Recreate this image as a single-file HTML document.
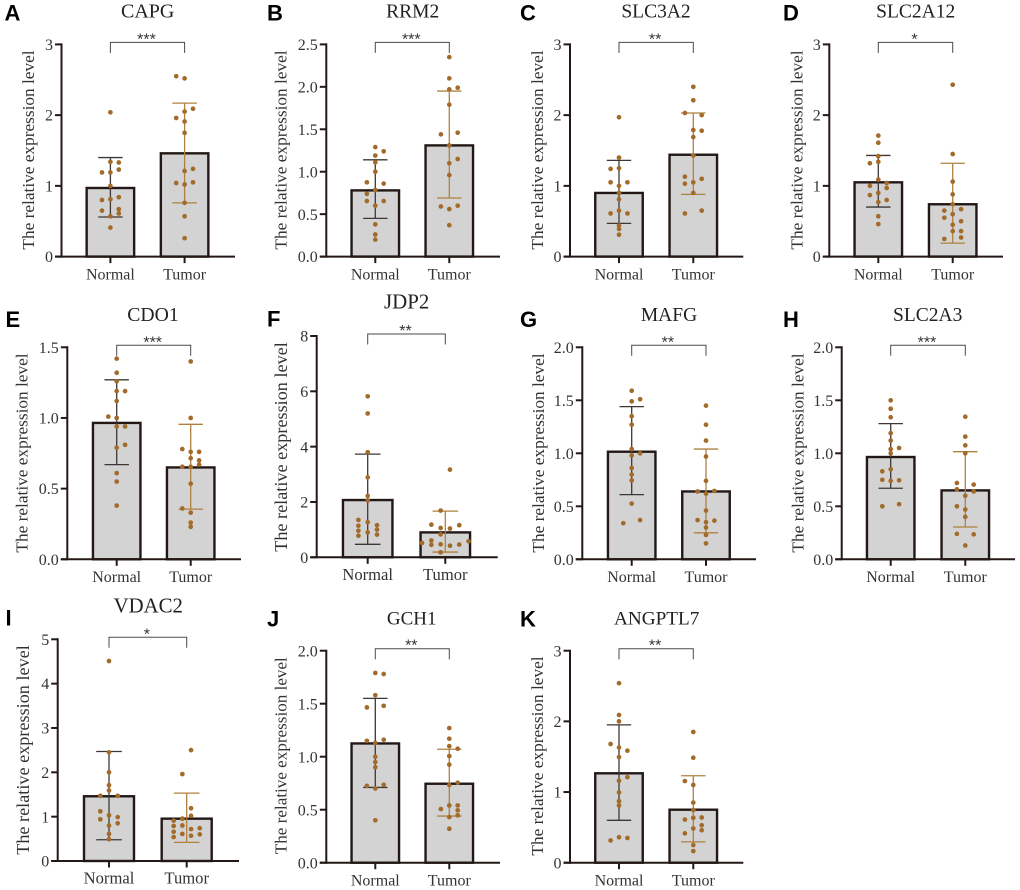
<!DOCTYPE html>
<html lang="en">
<head>
<meta charset="utf-8">
<title>Relative expression level of eleven genes in normal and tumor tissue</title>
<style>
html,body{margin:0;padding:0;background:#fff;}
svg{display:block;}
text{font-family:"Liberation Serif",serif;fill:#333;}
.letter{font-family:"Liberation Sans",sans-serif;font-weight:700;font-size:22px;fill:#000;}
.stars{font-family:"Liberation Sans",sans-serif;font-size:16px;fill:#333;}
</style>
</head>
<body>
<svg id="figure" xmlns="http://www.w3.org/2000/svg" width="1020" height="890" viewBox="0 0 1020 890"></svg>
<script>
const panelLetters = ['A','B','C','D','E','F','G','H','I','J','K'];
const genes = ['CAPG','RRM2','SLC3A2','SLC2A12','CDO1','JDP2','MAFG','SLC2A3','VDAC2','GCH1','ANGPTL7'];
const groups = ['Normal','Tumor'];
const significance = ['***','***','**','*','***','**','**','***','*','**','**'];
const yTickLabels = [
  ['0','1','2','3'],
  ['0.0','0.5','1.0','1.5','2.0','2.5'],
  ['0','1','2','3'],
  ['0','1','2','3'],
  ['0.0','0.5','1.0','1.5'],
  ['0','2','4','6','8'],
  ['0.0','0.5','1.0','1.5','2.0'],
  ['0.0','0.5','1.0','1.5','2.0'],
  ['0','1','2','3','4','5'],
  ['0.0','0.5','1.0','1.5','2.0'],
  ['0','1','2','3']
];
const normalMeans = [0.97,0.78,0.90,1.05,0.965,2.07,1.015,0.965,1.46,1.125,1.265];
const normalUpper = [1.40,1.14,1.36,1.43,1.27,3.73,1.44,1.28,2.47,1.55,1.95];
const normalLower = [0.56,0.45,0.47,0.70,0.67,0.47,0.61,0.67,0.48,0.71,0.60];
const tumorMeans = [1.46,1.31,1.44,0.74,0.65,0.90,0.64,0.65,0.955,0.745,0.75];
const tumorUpper = [2.17,1.95,2.03,1.32,0.955,1.67,1.04,1.015,1.53,1.07,1.23];
const tumorLower = [0.76,0.69,0.88,0.19,0.355,0.19,0.25,0.305,0.42,0.44,0.295];
const normalValues = [
  [2.04,1.34,1.33,1.19,1.19,1.23,1.0,0.84,0.81,0.80,0.67,0.65,0.61,0.57,0.41],
  [1.29,1.24,1.19,1.11,1.0,0.875,0.86,0.785,0.74,0.655,0.655,0.60,0.38,0.26,0.20],
  [1.97,1.40,1.24,1.25,1.05,1.05,1.0,0.90,0.81,0.65,0.61,0.61,0.44,0.39,0.31],
  [1.71,1.61,1.42,1.32,1.34,1.09,1.04,1.0,0.97,0.87,0.90,0.80,0.77,0.57,0.46],
  [1.42,1.32,1.26,1.19,1.19,1.12,1.01,1.0,0.94,0.94,0.81,0.79,0.61,0.55,0.38],
  [5.82,5.2,3.8,2.89,2.22,2.05,1.35,1.27,1.14,1.16,0.96,1.0,0.90,0.78,0.82],
  [1.59,1.51,1.49,1.35,1.27,1.04,0.98,1.0,0.86,0.80,0.745,0.525,0.37,0.34],
  [1.5,1.42,1.34,1.19,1.12,1.04,1.05,1.0,0.83,0.85,0.75,0.74,0.745,0.50,0.52],
  [4.51,2.45,2.0,1.71,1.59,1.47,1.47,1.12,1.03,0.99,0.94,0.85,0.80,0.61,0.49],
  [1.79,1.78,1.58,1.465,1.48,1.15,1.16,1.13,1.0,0.95,0.90,0.725,0.735,0.70,0.40],
  [2.54,2.09,2.0,1.68,1.63,1.585,1.495,1.21,1.16,0.995,0.87,0.81,0.36,0.35,0.315]
];
const normalColumns = [
  [0,0,1,-1,0,1,0,1,0,-1,1,-1,1,0,0],
  [0,1,0,0,0,-1,1,0,-1,-1,1,0,0,0,0],
  [0,0,-1,0,-1,1,0,0,0,0,-1,1,0,0,0],
  [0,0,0,-1,0,0,1,-1,1,-1,0,1,0,0,0],
  [0,0,0,0,1,0,-1,0,0,1,1,0,0,0,0],
  [0,0,0,0,0,0,-1,0,-1,1,-1,1,0,-1,1],
  [0,1,0,0,0,0,0,1,0,0,0,0,1,-1],
  [0,0,0,0,0,0,1,0,-1,0,-1,0,1,-1,1],
  [0,0,0,0,0,-1,1,-1,0,1,-1,1,0,0,0],
  [0,1,0,-1,1,-1,1,0,0,0,0,-1,1,0,0],
  [0,0,0,-1,0,1,0,1,0,0,0,0,0,1,-1]
];
const tumorValues = [
  [2.55,2.52,2.09,2.05,1.96,1.91,1.75,1.24,1.21,1.04,1.02,1.05,0.76,0.57,0.26],
  [2.35,2.10,1.97,1.99,1.79,1.44,1.46,1.31,1.10,1.15,0.96,0.59,0.56,0.60,0.37],
  [2.40,2.21,2.03,2.0,1.79,1.78,1.69,1.43,1.13,1.10,1.03,1.05,0.90,0.65,0.61],
  [2.43,1.45,1.06,0.88,0.74,0.65,0.67,0.60,0.55,0.50,0.45,0.36,0.36,0.27,0.25],
  [1.40,1.0,0.78,0.76,0.76,0.715,0.70,0.67,0.655,0.655,0.535,0.36,0.33,0.26,0.23],
  [3.17,1.69,1.18,1.06,1.04,1.16,0.83,0.61,0.52,0.45,0.47,0.42,0.46,0.58,0.18],
  [1.45,1.27,1.12,0.97,0.74,0.64,0.62,0.645,0.46,0.37,0.365,0.35,0.30,0.23,0.15],
  [1.345,1.157,1.075,1.0,0.72,0.705,0.66,0.64,0.60,0.50,0.47,0.40,0.24,0.235,0.13],
  [2.5,1.96,1.19,1.02,0.955,0.91,0.79,0.80,0.74,0.72,0.66,0.61,0.60,0.57,0.54],
  [1.27,1.17,1.10,1.075,1.006,0.925,0.733,0.755,0.54,0.54,0.506,0.494,0.447,0.43,0.32],
  [1.85,1.485,1.155,1.10,0.85,0.745,0.635,0.64,0.61,0.53,0.485,0.46,0.415,0.25,0.165]
];
const tumorColumns = [
  [-1,0,1,0,-1,0,0,1,0,-1,0,1,0,0,0],
  [0,0,0,1,0,-1,1,0,0,1,0,-1,0,1,0],
  [0,0,-1,1,0,1,0,0,-1,1,-1,0,0,1,-1],
  [0,0,0,0,0,-1,1,0,-1,1,0,0,1,1,-1],
  [0,0,-1,0,1,0,1,1,-1,0,0,-1,0,0,0],
  [0.5,-0.5,-1.5,-0.5,0.5,1.5,-0.5,-1.5,-2.5,-1.5,-0.5,0.5,1.5,2.5,-0.5],
  [0,0,0,0,0,-1,0,1,0,-1,1,0,0,0,0],
  [0,0,0,0,-1,1,-1,1,0,-1,0,0,-1,1,0],
  [0.5,-0.5,0.5,0.5,-0.5,-1.5,-1.5,-0.5,1.5,0.5,-1.5,-0.5,1.5,0.5,-1.5],
  [0,0,0,1,0,0,0,1,0,1,-1,1,1,0,0],
  [0,0,-1,0,0,0,0,1,-1,1,0,1,-1,0,0]
];

/* Frame geometry of each panel, separate from the values above. */
const frames = [
  {axis:61.5, c1:110.4,c2:184.6,end:235, top:44.4, bottom:256.6,barW:47.5,step:8.4,cap:12.2,letterX:4.5,letterY:20.7, titleX:147.7,titleY:17.5, titleSize:20,labelX:34,   labelY:150,  labelSize:17.3,catSize:16},
  {axis:326.3,c1:375.3,c2:449.3,end:500, top:44.4, bottom:256.6,barW:47.5,step:8.4,cap:12.2,letterX:267,letterY:20.7, titleX:412.7,titleY:17.5, titleSize:19.5,labelX:286.3,labelY:150,  labelSize:17.3,catSize:16},
  {axis:570,  c1:619,  c2:693.3,end:743.3,top:44.4,bottom:256.6,barW:47.5,step:8.4,cap:12.2,letterX:520,letterY:20.7, titleX:656,  titleY:17.5, titleSize:19.5,labelX:543,  labelY:150,  labelSize:17.3,catSize:16},
  {axis:829.3,c1:878.3,c2:952.7,end:1003,top:44.4, bottom:256.6,barW:47.5,step:8.4,cap:12.2,letterX:783,letterY:20.7, titleX:915.7,titleY:17.5, titleSize:19.5,labelX:802.3,labelY:150,  labelSize:17.3,catSize:16},
  {axis:67.3, c1:116.7,c2:190.7,end:241, top:347.3,bottom:559.3,barW:47.5,step:8.4,cap:12.2,letterX:5.5,letterY:327,  titleX:153,  titleY:321,  titleSize:19.7,labelX:27.7, labelY:453,  labelSize:17.3,catSize:16},
  {axis:316.7,c1:367.7,c2:445.3,end:497.7,top:336, bottom:557.3,barW:49.5,step:9.3,cap:12.8,letterX:267,letterY:326.7,titleX:406.7,titleY:308.3,titleSize:20.9,labelX:287,  labelY:447,  labelSize:18.2,catSize:16.6},
  {axis:582.3,c1:631.7,c2:706,  end:756, top:347.3,bottom:559.3,barW:47.5,step:8.4,cap:12.2,letterX:520,letterY:327,  titleX:669,  titleY:321,  titleSize:19.5,labelX:544,  labelY:453,  labelSize:17.3,catSize:16},
  {axis:841.7,c1:890.7,c2:965.3,end:1015,top:347.3,bottom:559.3,barW:47.5,step:8.4,cap:12.2,letterX:783,letterY:327,  titleX:927.7,titleY:321,  titleSize:19.5,labelX:803.5,labelY:453,  labelSize:17.3,catSize:16},
  {axis:57.7, c1:109,  c2:186.7,end:239, top:639.3,bottom:861,  barW:50,  step:8.7,cap:12.8,letterX:5.5,letterY:625.7,titleX:148.3,titleY:612.3,titleSize:20.8,labelX:29,   labelY:750,  labelSize:18.2,catSize:16.6},
  {axis:326.3,c1:375.3,c2:449.3,end:500, top:650.7,bottom:862.7,barW:47.5,step:8.4,cap:12.2,letterX:267,letterY:626.7,titleX:411.7,titleY:624.3,titleSize:19,labelX:286.3,labelY:755.7,labelSize:17.1,catSize:16},
  {axis:570,  c1:619,  c2:693.3,end:743.3,top:650.7,bottom:862.7,barW:47.5,step:8.4,cap:12.2,letterX:520,letterY:626.7,titleX:656.7,titleY:624.3,titleSize:19.2,labelX:543,labelY:756,labelSize:17.3,catSize:16}
];

const SVG_NS = 'http://www.w3.org/2000/svg';
const figure = document.getElementById('figure');
const INK = '#231815';
const NORMAL_ERR = '#3c3734';
const TUMOR_ERR = '#b0803f';
const DOT = '#a26b2a';

function mk(tag, attrs, parent, content) {
  const node = document.createElementNS(SVG_NS, tag);
  for (const key in attrs) node.setAttribute(key, attrs[key]);
  if (content !== undefined) node.textContent = content;
  parent.appendChild(node);
  return node;
}

function drawPanel(i) {
  const f = frames[i];
  const gene = genes[i].toLowerCase();
  const ticks = yTickLabels[i];
  const yMax = Number(ticks[ticks.length - 1]);
  const yScale = v => f.bottom - (v / yMax) * (f.bottom - f.top);

  const g = mk('g', {}, figure);
  
  

  const letter = mk('text', {x: f.letterX, y: f.letterY, class: 'letter'}, g, panelLetters[i]);
  
  

  const title = mk('text', {x: f.titleX, y: f.titleY, 'text-anchor': 'middle', 'font-size': f.titleSize, style: 'fill:#222'}, g, genes[i]);
  
  

  const yTitle = mk('text', {
    x: 0, y: 0, 'text-anchor': 'middle', 'font-size': f.labelSize,
    transform: 'translate(' + f.labelX + ',' + f.labelY + ') rotate(-90)'
  }, g, 'The relative expression level');
  
  

  const series = [
    {name: 'normal', cx: f.c1, mean: normalMeans[i], hi: normalUpper[i], lo: normalLower[i], vals: normalValues[i], cols: normalColumns[i], err: NORMAL_ERR},
    {name: 'tumor',  cx: f.c2, mean: tumorMeans[i],  hi: tumorUpper[i],  lo: tumorLower[i],  vals: tumorValues[i],  cols: tumorColumns[i],  err: TUMOR_ERR}
  ];

  series.forEach(s => {
    const yTop = yScale(s.mean);
    const bar = mk('rect', {
      x: s.cx - f.barW / 2, y: yTop, width: f.barW, height: f.bottom - yTop,
      fill: '#d3d3d3', stroke: INK, 'stroke-width': 2.4
    }, g);
    
    
  });

  series.forEach(s => {
    const errStem = mk('line', {x1: s.cx, x2: s.cx, y1: yScale(s.hi), y2: yScale(s.lo), stroke: s.err, 'stroke-width': 1.3}, g);
    
    
    const capHi = mk('line', {x1: s.cx - f.cap, x2: s.cx + f.cap, y1: yScale(s.hi), y2: yScale(s.hi), stroke: s.err, 'stroke-width': 1.3}, g);
    
    
    const capLo = mk('line', {x1: s.cx - f.cap, x2: s.cx + f.cap, y1: yScale(s.lo), y2: yScale(s.lo), stroke: s.err, 'stroke-width': 1.3}, g);
    
    
  });

  series.forEach(s => {
    s.vals.forEach((v, k) => {
      const dot = mk('circle', {cx: s.cx + s.cols[k] * f.step, cy: yScale(v), r: 2.35, fill: DOT}, g);
      
      
    });
  });

  const yAxis = mk('line', {x1: f.axis, x2: f.axis, y1: f.top - 1, y2: f.bottom + 1, stroke: INK, 'stroke-width': 2}, g);
  
  
  const xAxis = mk('line', {x1: f.axis - 6.5, x2: f.end, y1: f.bottom, y2: f.bottom, stroke: INK, 'stroke-width': 2}, g);
  
  

  ticks.forEach(label => {
    const ty = yScale(Number(label));
    const tick = mk('line', {x1: f.axis - 6.5, x2: f.axis, y1: ty, y2: ty, stroke: INK, 'stroke-width': 2}, g);
    
    
    const tickText = mk('text', {x: f.axis - 8.5, y: ty + 5.6, 'text-anchor': 'end', 'font-size': 16}, g, label);
    
    
  });

  series.forEach((s, k) => {
    const tick = mk('line', {x1: s.cx, x2: s.cx, y1: f.bottom, y2: f.bottom + 6.5, stroke: INK, 'stroke-width': 2}, g);
    
    
    const cat = mk('text', {x: s.cx, y: f.bottom + 22.7, 'text-anchor': 'middle', 'font-size': f.catSize}, g, groups[k]);
    
    
  });

  const by = f.top - 2;
  const bracket = mk('path', {
    d: 'M' + f.c1 + ' ' + (by + 10.5) + 'V' + by + 'H' + f.c2 + 'V' + (by + 10.5),
    fill: 'none', stroke: '#4a4a4a', 'stroke-width': 1
  }, g);
  
  
  const stars = mk('text', {x: (f.c1 + f.c2) / 2 - 1, y: by + 2, 'text-anchor': 'middle', class: 'stars'}, g, significance[i]);
  
  
}

genes.forEach((_, i) => drawPanel(i));
</script>
</body>
</html>
